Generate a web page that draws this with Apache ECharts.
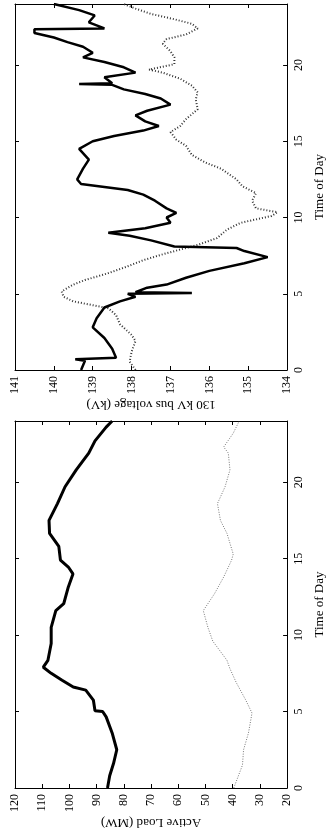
<!DOCTYPE html>
<html>
<head>
<meta charset="utf-8">
<script src="https://cdn.jsdelivr.net/npm/echarts@6/dist/echarts.min.js"></script>
<style>
  html, body { margin: 0; padding: 0; background: #fff; }
  #main { width: 334px; height: 836px; }
</style>
</head>
<body>
<div id="main"></div>
<script>
// upper panel: 130 kV bus voltage, two buses (solid / dotted)
var voltSolidHour = [0, 0.6, 0.7, 0.8, 1.4, 2.1, 2.8, 3.4, 4.1, 4.5, 4.8, 5.0, 5.05, 5.1, 5.4, 5.6, 6.05, 6.5, 7.0, 7.4, 7.8, 8.0, 8.1, 8.5, 8.8, 9.0, 9.3, 9.65, 10.0, 10.3, 10.6, 11.1, 11.5, 11.8, 12.0, 12.2, 12.5, 13.2, 13.8, 14.5, 15.0, 15.35, 15.7, 16.0, 16.3, 16.7, 17.0, 17.4, 17.8, 18.1, 18.4, 18.7, 18.75, 18.8, 19.2, 19.5, 19.85, 20.2, 20.5, 20.8, 21.2, 21.5, 21.8, 22.1, 22.35, 22.4, 22.8, 23.25, 23.6, 24];
var voltSolid = [139.3, 139.2, 139.45, 138.4, 138.5, 138.7, 139.0, 138.9, 138.7, 138.3, 137.9, 138.1, 136.45, 137.9, 137.6, 137.1, 136.6, 136.0, 135.1, 134.5, 135.1, 135.3, 136.9, 137.5, 138.05, 138.6, 137.65, 137.0, 137.1, 136.85, 137.1, 137.4, 137.7, 138.1, 138.7, 139.3, 139.4, 139.25, 139.1, 139.35, 139.0, 138.45, 137.7, 137.3, 137.65, 137.9, 137.6, 137.0, 137.25, 137.65, 138.2, 138.5, 139.35, 138.5, 138.7, 137.9, 138.2, 138.7, 139.25, 139.0, 139.25, 139.65, 140.0, 140.5, 140.5, 138.7, 139.1, 138.95, 139.35, 140.0];

var voltDotHour = [0, 0.55, 1.2, 1.9, 2.3, 3.0, 3.6, 4.05, 4.3, 4.5, 4.8, 5.15, 5.6, 5.9, 6.35, 6.8, 7.2, 7.55, 7.9, 8.2, 8.65, 9.2, 9.65, 10.1, 10.35, 10.6, 11.1, 11.6, 12.05, 12.5, 13.2, 13.6, 14.1, 14.7, 15.1, 15.6, 16.0, 16.45, 17.1, 17.75, 18.2, 18.65, 19.1, 19.5, 19.7, 20.05, 20.5, 20.9, 21.4, 21.7, 22.0, 22.4, 22.7, 23.0, 23.35, 23.7, 24];
var voltDot = [137.9, 138.05, 138.0, 137.9, 138.0, 138.3, 138.4, 138.6, 139.1, 139.5, 139.75, 139.8, 139.5, 139.2, 138.6, 138.1, 137.7, 137.25, 136.75, 136.3, 135.8, 135.55, 135.2, 134.4, 134.25, 134.8, 134.9, 134.8, 135.15, 135.3, 135.7, 136.1, 136.45, 136.6, 136.85, 137.0, 136.75, 136.6, 136.3, 136.35, 136.3, 136.45, 136.75, 137.2, 137.55, 136.9, 136.9, 137.0, 137.2, 137.1, 136.6, 136.3, 136.45, 136.9, 137.5, 137.9, 138.2];

// lower panel: load (solid = active, dotted = second load curve)
var loadHour = [0, 0.8, 1.6, 2.5, 3.6, 4.65, 5.0, 5.05, 5.75, 6.4, 6.6, 7.05, 7.5, 7.9, 8.35, 9.45, 10.5, 11.6, 12.05, 13.15, 14.0, 14.45, 14.9, 15.8, 16.65, 17.5, 18.6, 19.7, 20.8, 21.9, 22.7, 23.6, 24];
var activeLoad = [86, 85.2, 83.8, 82.6, 84.3, 86.5, 87.8, 90.6, 91.2, 94, 98.6, 102.7, 106.7, 109.6, 107.9, 106.7, 106.7, 105, 102.1, 100.4, 98.7, 100.4, 103.3, 103.9, 107.3, 107.5, 104.4, 101.6, 97.5, 92.9, 90.6, 86.5, 84.3];

var load2Hour = [0, 1.5, 2.5, 3.6, 4.9, 5.75, 6.9, 7.8, 8.35, 9.6, 10.5, 11.6, 12.7, 13.8, 14.9, 15.3, 16.65, 17.5, 18.6, 19.7, 20.8, 21.9, 22.3, 23.2, 24];
var load2 = [39.6, 36.4, 36.0, 34.2, 32.9, 35.2, 38.7, 41, 42.1, 47.3, 49.1, 50.8, 46.7, 43.3, 40.4, 39.8, 42.1, 44.5, 45.6, 42.8, 41.0, 41.6, 43.3, 39.8, 37.6];

var hourTicks = 5;

function pairs(vals, hours) {
  var out = [];
  for (var i = 0; i < vals.length; i++) out.push([vals[i], hours[i]]);
  return out;
}

var font = 'Liberation Serif';
var lbl = { fontFamily: font, fontSize: 12, color: '#000' };
var nameStyle = { fontFamily: font, fontSize: 13, color: '#000' };

function valueAxis(grid, min, max, step, pos, name) {
  return {
    type: 'value', gridIndex: grid, min: min, max: max, interval: step,
    inverse: true, position: pos,
    axisLine: { show: true, onZero: false, lineStyle: { color: '#000', width: 1 } },
    axisTick: { show: true, inside: true, length: 4, lineStyle: { color: '#000' } },
    axisLabel: Object.assign({ show: pos === 'bottom', rotate: 90, margin: 6 }, lbl),
    splitLine: { show: false },
    name: name || '', nameLocation: 'middle', nameRotate: 180, nameGap: 22,
    nameTextStyle: nameStyle
  };
}

function hourAxis(grid, pos, withName) {
  return {
    type: 'value', gridIndex: grid, min: 0, max: 24, interval: hourTicks, position: pos,
    axisLine: { show: true, onZero: false, lineStyle: { color: '#000', width: 1 } },
    axisTick: { show: true, inside: true, length: 4, lineStyle: { color: '#000' } },
    axisLabel: Object.assign({ show: pos === 'right', rotate: 90, margin: 6, showMaxLabel: false }, lbl),
    splitLine: { show: false },
    name: withName ? 'Time of Day' : '', nameLocation: 'middle', nameRotate: 90, nameGap: 19,
    nameTextStyle: nameStyle
  };
}

var option = {
  animation: false,
  backgroundColor: '#fff',
  grid: [
    { left: 15, right: 30, top: 4, height: 366 },
    { left: 15, right: 30, top: 421, height: 367 }
  ],
  xAxis: [
    valueAxis(0, 134, 141, 1, 'bottom', '130 kV bus voltage (kV)'),
    valueAxis(0, 134, 141, 1, 'top'),
    valueAxis(1, 20, 120, 10, 'bottom', 'Active Load (MW)'),
    valueAxis(1, 20, 120, 10, 'top')
  ],
  yAxis: [
    hourAxis(0, 'right', true),
    hourAxis(0, 'left'),
    hourAxis(1, 'right', true),
    hourAxis(1, 'left')
  ],
  series: [
    {
      type: 'line', xAxisIndex: 0, yAxisIndex: 0, symbol: 'none',
      data: pairs(voltDot, voltDotHour),
      lineStyle: { color: '#333', width: 2, type: [1, 2] }
    },
    {
      type: 'line', xAxisIndex: 0, yAxisIndex: 0, symbol: 'none',
      data: pairs(voltSolid, voltSolidHour),
      lineStyle: { color: '#000', width: 2.5 }
    },
    {
      type: 'line', xAxisIndex: 2, yAxisIndex: 2, symbol: 'none',
      data: pairs(load2, load2Hour),
      lineStyle: { color: '#777', width: 1, type: [1, 1.5] }
    },
    {
      type: 'line', xAxisIndex: 2, yAxisIndex: 2, symbol: 'none',
      data: pairs(activeLoad, loadHour),
      lineStyle: { color: '#000', width: 3 }
    }
  ]
};

var chart = echarts.init(document.getElementById('main'));
chart.setOption(option);
</script>
</body>
</html>
